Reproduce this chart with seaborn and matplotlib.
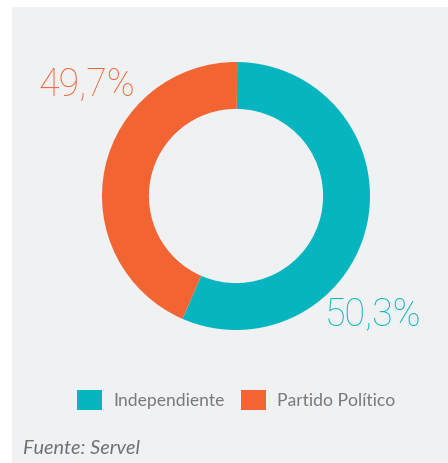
import matplotlib.pyplot as plt
import seaborn as sns
from matplotlib.patches import Patch, Rectangle

# Data
categories = ["Independiente", "Partido Político"]
labels = ["50,3%", "49,7%"]
# arc sizes as drawn in the picture (the drawn split is wider than the printed labels)
arc_shares = [56.4, 43.6]
colors = ["#06b5bf", "#f26532"]
source = "Fuente: Servel"

sns.set_theme(style="white")
plt.rcParams["font.family"] = ["Lato", "DejaVu Sans"]

fig = plt.figure(figsize=(4.48, 4.63), dpi=100)
fig.patch.set_facecolor("white")
# gray panel (white strip on top and left)
fig.patches.append(Rectangle((12 / 448, 0), 1, 1 - 7 / 463, transform=fig.transFigure,
                             facecolor="#f0f1f3", edgecolor="none", zorder=-1))

# donut axes: center (236,196) px, radius 134 px
cx, cy, R = 236, 196, 134
ax = fig.add_axes([(cx - R) / 448, (463 - cy - R) / 463, 2 * R / 448, 2 * R / 463])
ax.pie(arc_shares, colors=colors, startangle=89.5, counterclock=False,
       wedgeprops=dict(width=0.35, edgecolor="none"), radius=1)
ax.set_xlim(-1, 1)
ax.set_ylim(-1, 1)
ax.set_aspect("equal")
ax.axis("off")

# percentage labels
lab_font = dict(family=["Roboto", "DejaVu Sans"], fontsize=27, fontweight="light",
                ha="center", va="center", clip_on=False)
ax.text((373 - cx) / R, (cy - 314) / R, labels[0], color=colors[0], **lab_font)
ax.text((87 - cx) / R, (cy - 84) / R, labels[1], color=colors[1], **lab_font)

# legend
handles = [Patch(facecolor=c, edgecolor="none") for c in colors]
leg = fig.legend(handles, categories, loc="center", bbox_to_anchor=(0.527, 0.136),
                 ncol=2, frameon=False, fontsize=12.6, handlelength=1.45, handleheight=1.45,
                 handletextpad=0.62, columnspacing=0.95)
for t in leg.get_texts():
    t.set_color("#7a7a7a")

fig.text(23 / 448, 1 - 448 / 463, source, color="#707070", fontsize=14.3,
         style="italic", ha="left", va="center")

fig.savefig("out.png", dpi=100)
